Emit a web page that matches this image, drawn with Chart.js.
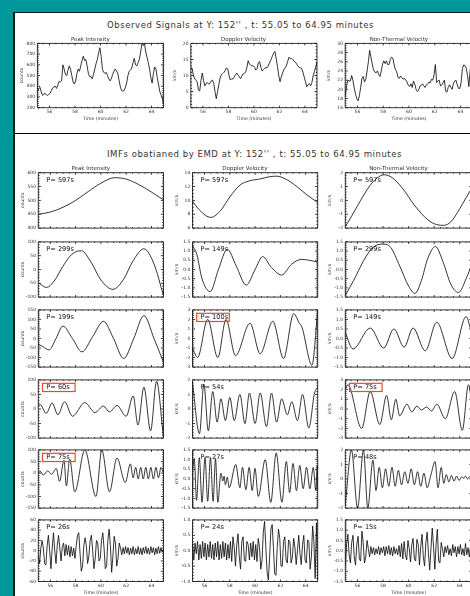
<!DOCTYPE html>
<html>
<head>
<meta charset="utf-8">
<script src="https://cdn.jsdelivr.net/npm/chart.js@4.4.1/dist/chart.umd.min.js"></script>
<style>
  html, body { margin:0; padding:0; width:470px; height:596px; overflow:hidden; background:#00989a; }
  #page { position:absolute; left:0; top:0; width:470px; height:596px; overflow:hidden; }
  #panel { position:absolute; left:13px; top:12px; width:470px; height:600px; background:#fff; box-sizing:border-box; border-left:2px solid #0b1c1c; border-top:1px solid #0b1c1c; }
  #divider { position:absolute; left:15px; top:132.6px; width:460px; height:1.6px; background:#000; }
  .ttl { position:absolute; white-space:nowrap; font-family:'DejaVu Sans', sans-serif; color:#333; transform:translate(-50%,-50%); }
  canvas { position:absolute; }
</style>
</head>
<body>
<div id="page">
  <div id="panel"></div>
  <div id="divider"></div>
  <div class="ttl" id="t1" data-w="267" style="left:240.5px;top:24.5px;font-size:8.5px">Observed Signals at Y: 152'' , t: 55.05 to 64.95 minutes</div>
  <div class="ttl" id="t2" data-w="295" style="left:254.5px;top:154px;font-size:8.5px">IMFs obatianed by EMD at Y: 152'' , t: 55.05 to 64.95 minutes</div>
</div>
<script>
// ---------------- DATA ----------------
const times = [
 55.05,55.15,55.25,55.35,55.45,55.55,55.65,55.75,55.85,55.95,
 56.05,56.15,56.25,56.35,56.45,56.55,56.65,56.75,56.85,56.95,
 57.05,57.15,57.25,57.35,57.45,57.55,57.65,57.75,57.85,57.95,
 58.05,58.15,58.25,58.35,58.45,58.55,58.65,58.75,58.85,58.95,
 59.05,59.15,59.25,59.35,59.45,59.55,59.65,59.75,59.85,59.95,
 60.05,60.15,60.25,60.35,60.45,60.55,60.65,60.75,60.85,60.95,
 61.05,61.15,61.25,61.35,61.45,61.55,61.65,61.75,61.85,61.95,
 62.05,62.15,62.25,62.35,62.45,62.55,62.65,62.75,62.85,62.95,
 63.05,63.15,63.25,63.35,63.45,63.55,63.65,63.75,63.85,63.95,
 64.05,64.15,64.25,64.35,64.45,64.55,64.65,64.75,64.85,64.95];
const xTicks = [56, 58, 60, 62, 64];

// Observed signals (one value per time)
const obsPeak = [
 350,375,390,350,315,325,335,320,315,325, 335,360,385,395,400,380,410,445,440,450,
 600,560,510,500,550,590,560,500,440,420, 450,520,560,540,590,640,680,640,650,590,
 520,490,490,470,510,560,610,650,710,760, 680,560,530,520,530,500,470,450,470,510,
 540,560,545,520,460,400,360,355,360,390, 430,500,540,550,570,620,660,600,590,620,
 650,720,800,780,800,720,670,620,560,480, 430,520,580,560,480,420,350,320,290,230];
const obsDopp = [
 12.4,12.3,10.2,9.0,8.6,8.0,5.5,5.2,8.5,10.8, 8.5,6.8,7.5,7.8,7.3,7.6,8.3,8.6,7.6,5.0,
 2.8,5.0,7.2,9.2,10.3,10.6,11.0,11.6,12.4,12.0, 10.0,8.6,9.0,8.9,9.5,10.2,10.8,10.2,9.7,9.0,
 9.8,10.5,10.7,11.0,12.5,14.6,13.6,13.2,13.0,13.0, 12.6,11.7,12.2,14.0,14.3,12.5,11.4,11.9,12.3,12.4,
 12.5,13.3,14.2,15.0,16.0,17.0,17.5,15.2,12.8,10.0, 8.1,9.6,10.8,11.8,12.4,13.0,14.4,15.7,15.2,15.4,
 15.0,14.5,14.2,13.6,13.0,12.5,12.4,12.2,11.0,9.5, 8.0,6.5,7.2,7.5,6.8,7.8,10.0,11.3,12.8,14.0];
const obsNTV = [
 18.5,20.6,22.0,21.8,21.8,23.0,22.0,20.3,19.0,18.0, 17.5,18.6,20.4,22.4,22.8,21.6,22.2,24.0,26.0,28.5,
 27.0,25.5,24.2,23.8,23.6,24.0,23.2,22.8,24.0,25.5, 26.2,25.6,26.2,25.4,25.4,26.5,27.0,26.8,25.3,24.3,
 23.8,22.6,22.4,22.9,22.5,22.2,22.4,22.0,21.6,20.9, 20.6,21.2,20.4,21.8,21.2,20.0,19.5,19.8,20.7,20.8,
 21.2,20.8,20.4,20.9,21.2,21.6,21.4,22.2,22.0,23.2, 25.4,21.5,21.8,22.0,20.7,21.0,21.4,22.0,19.6,19.4,
 20.4,21.0,20.5,20.0,21.2,21.8,22.0,21.0,20.2,20.2, 21.5,24.5,25.3,25.2,24.6,23.0,20.6,24.0,26.5,28.0];

// IMFs, rows 1-5: [time, value] read at turning points
const imf1Peak = [[55.05,450],[56,458],[57,475],[58,500],[59,532],[60,562],[61.1,582],[62,577],[63,557],[64,530],[64.95,502]];
const imf1Dopp = [[55.05,9.9],[55.6,8.6],[56.5,7.55],[57.3,8.6],[58.0,10.5],[58.8,12.2],[59.5,12.8],[60.4,13.1],[61.1,13.4],[61.7,13.5],[62.5,13.0],[63.3,12.0],[64.1,10.8],[64.95,9.7]];
const imf1NTV = [[55.05,-1.9],[55.5,-1.2],[56,-0.4],[56.5,0.4],[57,1.1],[57.5,1.6],[58.1,1.85],[58.7,1.65],[59.5,0.9],[60.5,-0.4],[61.5,-1.4],[62.2,-1.75],[62.75,-1.8],[63.3,-1.55],[64,-0.6],[64.5,0.2],[64.95,0.9]];

const imf2Peak = [[55.05,-48],[55.7,-65],[56.3,-42],[57.0,12],[57.7,55],[58.45,68],[59.2,28],[60.0,-38],[60.95,-72],[61.8,-35],[62.5,28],[63.4,75],[64.2,20],[64.95,-95]];
const imf2Dopp = [[55.05,1.3],[55.4,0.8],[55.8,-0.5],[56.45,-1.2],[57.1,0],[57.8,1.1],[58.5,0.2],[59.3,-0.85],[60.0,0],[60.6,0.7],[61.3,0.1],[62.1,-0.3],[62.9,0.3],[63.7,0.55],[64.3,0.5],[64.95,0.4]];
const imf2NTV = [[55.05,-1.4],[55.7,-0.6],[56.5,0.5],[57.2,1.2],[58.0,1.38],[58.6,1.2],[59.3,0.2],[60.0,-0.9],[60.5,-1.3],[61.0,-0.6],[61.5,0.6],[62.1,1.25],[62.7,0.4],[63.3,-0.8],[63.9,-1.25],[64.5,-0.5],[64.95,0.3]];

const imf3Peak = [[55.05,-30],[55.4,-42],[55.9,-60],[56.45,0],[57.0,65],[57.75,0],[58.5,-70],[59.35,10],[60.2,90],[61.0,0],[61.8,-105],[62.6,0],[63.4,120],[64.2,0],[64.95,-125]];
const imf3Dopp = [[55.05,-1.0],[55.45,-2.0],[56.25,2.0],[57.05,-2.0],[57.7,2.0],[58.45,-1.8],[59.6,1.6],[60.4,-1.6],[61.4,1.8],[62.25,-2.1],[63.05,2.6],[63.5,1.6],[63.7,1.2],[64.5,-2.8],[64.95,3.0]];
const imf3NTV = [[55.05,0.3],[55.65,-0.55],[57.0,0.55],[58.05,-0.5],[58.85,0.5],[59.65,-0.45],[60.35,0.55],[61.3,-0.65],[62.2,0.85],[63.4,-1.05],[64.5,1.15],[64.95,0.2]];

const imf4Peak = [[55.05,10],[55.2,15],[55.67,-15],[56.15,20],[56.6,-20],[57.13,25],[57.75,-25],[58.73,22],[59.53,-12],[60.2,10],[60.68,-10],[61.27,12],[62.0,-25],[62.55,45],[62.93,-55],[63.4,75],[63.93,-75],[64.4,95],[64.95,-100]];
const imf4Dopp = [[55.05,1.8],[55.6,-1.7],[55.95,1.7],[56.3,-1.5],[56.65,1.2],[57.0,-0.9],[57.3,0.7],[57.65,-0.8],[58.0,0.8],[58.35,-0.8],[58.8,1.0],[59.2,-1.0],[59.55,1.1],[60.0,-1.0],[60.4,1.1],[60.9,-1.2],[61.3,1.1],[61.7,-0.9],[62.1,0.7],[62.55,-0.4],[62.9,0.5],[63.35,-0.8],[63.75,1.0],[64.25,-1.3],[64.7,1.1],[64.95,1.5]];
const imf4NTV = [[55.05,2.0],[55.25,2.5],[56.33,-2.0],[57.0,1.8],[57.75,-1.6],[58.28,1.4],[58.65,-1.1],[59.0,1.0],[59.3,-0.7],[59.87,0.5],[60.25,-0.3],[60.65,0.3],[61.0,-0.1],[61.4,0.2],[61.8,-0.2],[62.2,0.5],[62.87,-1.0],[63.6,1.8],[64.2,-2.2],[64.68,2.5],[64.95,0.5]];

const imf5Peak = [[55.05,0],[55.2,8],[55.45,-8],[55.8,10],[56.1,-5],[56.47,20],[56.73,-35],[57.08,55],[57.27,-55],[57.53,60],[57.93,-80],[58.73,100],[59.61,-100],[60.07,100],[60.68,-80],[61.27,65],[61.93,-40],[62.33,40],[62.55,-20],[62.75,25],[62.95,-25],[63.15,25],[63.35,-25],[63.55,25],[63.75,-25],[63.95,25],[64.15,-25],[64.35,25],[64.55,-20],[64.75,25],[64.95,0]];
const imf5Dopp = [[55.05,0.4],[55.19,1.05],[55.37,-1.1],[55.59,1.1],[55.8,-1.2],[56.04,1.1],[56.25,-1.15],[56.47,1.1],[56.68,-1.15],[56.87,1.05],[57.05,-1.2],[57.3,0.3],[57.45,-0.1],[57.55,0.15],[57.65,-0.3],[57.8,0.1],[57.95,-0.45],[58.47,0.75],[58.8,-0.45],[59.0,0.6],[59.27,-0.55],[59.53,0.6],[59.77,-0.6],[59.99,0.55],[60.25,-0.9],[60.8,1.0],[61.24,-1.2],[61.67,1.35],[62.12,-1.2],[62.47,0.9],[62.73,-0.7],[63.0,0.8],[63.27,-0.6],[63.53,0.7],[63.8,-0.5],[64.07,0.6],[64.33,-0.5],[64.6,0.6],[64.8,-0.6],[64.92,0.7],[64.95,-0.6]];
const imf5NTV = [[55.05,-1.8],[55.53,2.0],[56.01,-2.0],[56.47,2.0],[56.81,-2.0],[57.21,1.3],[57.45,-0.8],[57.7,0.8],[57.95,-0.6],[58.2,0.7],[58.45,-0.5],[58.7,0.8],[58.95,-0.5],[59.2,0.6],[59.45,-0.4],[59.7,0.5],[59.95,-0.3],[60.2,0.7],[60.45,-0.4],[60.7,0.5],[60.95,-0.5],[61.2,0.4],[61.45,-0.6],[61.75,0.3],[62.07,1.2],[62.3,-0.6],[62.55,0.8],[62.75,-0.3],[62.95,0.3],[63.15,-0.2],[63.35,0.25],[63.55,-0.15],[63.75,0.2],[63.95,-0.1],[64.15,0.15],[64.3,0.05],[64.45,0.2],[64.6,0.0],[64.75,0.15],[64.95,0.0]];

// IMFs, row 6 (one value per time)
const imf6Peak = [
 -10,-25,5,20,5,-25,-28,10,30,0, -35,5,35,0,-25,10,30,5,-20,8,
 15,-10,12,-8,10,-12,8,-10,5,-15, 10,30,35,-5,-40,-30,10,25,10,-25,
 -10,20,30,0,-35,-15,20,15,-20,-15, 20,35,5,-35,-30,20,42,10,-42,-10,
 28,15,-30,-15,15,5,-8,6,-6,8, -5,6,-8,5,-6,8,-8,4,-6,8,
 -7,5,-8,6,-5,8,-6,5,-7,8, -4,6,-8,5,-6,8,-5,6,-3,4];
const imf6Dopp = [
 0.3,-0.3,0.25,-0.1,0.3,-0.3,0.2,-0.25,0.3,-0.2, 0.25,-0.3,0.2,-0.2,0.3,-0.25,0.2,-0.3,0.25,-0.2,
 0.3,-0.3,0.2,-0.25,0.3,-0.2,0.25,-0.3,0.2,-0.25, 0.3,-0.35,0.45,0.1,-0.5,0.2,0.55,-0.2,-0.6,0.3,
 0.45,-0.3,-0.35,0.3,0.2,-0.3,0.25,-0.2,0.3,-0.3, 0.2,-0.35,0.4,0.1,-0.6,-0.3,0.6,0.95,0.1,-0.7,
 -0.95,-0.2,0.7,0.85,0.1,-0.75,-0.8,0.1,0.7,0.4, -0.5,-0.5,0.3,0.45,-0.3,-0.4,0.35,0.3,-0.4,-0.2,
 0.4,0.1,-0.45,0.0,0.5,-0.1,-0.45,0.2,0.5,-0.3, -0.4,0.35,0.3,-0.6,-0.2,0.8,0.3,-0.9,0.9,-0.95];
const imf6NTV = [
 -0.7,0.3,0.8,-0.2,-0.6,0.4,0.75,-0.3,-0.7,0.3, 0.7,-0.4,-0.5,0.95,0.4,-0.6,-0.3,0.5,0.1,-0.3,
 0.2,-0.15,0.15,-0.2,0.1,-0.15,0.2,-0.2,0.15,-0.1, 0.2,-0.25,0.2,-0.15,0.25,-0.2,0.15,-0.25,0.2,-0.15,
 0.1,-0.2,0.25,-0.3,0.35,-0.4,0.45,-0.2,-0.45,0.5, 0.1,-0.55,0.3,0.6,-0.4,-0.5,0.55,0.3,-0.7,0.2,
 0.8,-0.3,-0.75,0.4,0.9,-0.1,-0.95,0.1,1.1,0.2, -0.9,0.3,1.05,-0.5,-0.6,0.4,0.1,-0.3,0.2,-0.1,
 0.25,-0.2,0.1,-0.25,0.3,-0.1,0.2,-0.3,0.2,-0.15, 0.3,-0.2,0.1,-0.25,0.35,-0.2,0.15,-0.3,0.2,-0.1];

// y tick values per plot
const ytObsPeak = [200,300,400,500,600,700,800];
const ytObsDopp = [0,5,10,15,20];
const ytObsNTV  = [16,18,20,22,24,26,28,30];
const yt1Peak = [400,450,500,550,600];
const yt1Dopp = [6,8,10,12,14];
const yt1NTV  = [-2,-1,0,1,2];
const yt2Peak = [-100,-50,0,50,100];
const ytHalf15 = [-1.5,-1.0,-0.5,0.0,0.5,1.0,1.5];
const yt3Peak = [-150,-100,-50,0,50,100,150];
const yt3Dopp = [-3,-2,-1,0,1,2,3];
const yt4Peak = [-100,-50,0,50,100];
const yt4Dopp = [-2,-1,0,1,2];
const yt4NTV  = [-3,-2,-1,0,1,2,3];
const yt5Peak = [-150,-100,-50,0,50,100];
const yt5NTV  = [-2,-1,0,1,2];
const yt6Peak = [-60,-40,-20,0,20,40,60];
const yt6Dopp = [-1.0,-0.5,0.0,0.5,1.0];

const periods = [['597s','597s','597s'],['299s','149s','299s'],['199s','100s','149s'],['60s','54s','75s'],['75s','27s','48s'],['26s','24s','15s']];
const boxed = [[false,false,false],[false,false,false],[false,true,false],[true,false,true],[true,false,false],[false,false,false]];

// ---------------- LAYOUT ----------------
const FONT = "'DejaVu Sans', sans-serif";
const TXT = '#333';
const colsTop = [37.4, 190.8, 345.2], wTopCols = [126.2, 126.2, 127.5];
const topY = 43.4, topH = 64.3;
const colsBot = [38.3, 192.5, 345.3], wBotCols = [125.2, 125.2, 126.6];
const rowTops = [172.7, 241.7, 309.4, 379.4, 449.3, 519.3];
const rowHs   = [57.4, 57.4, 60.6, 61.2, 61.4, 62.2];

function minorList(lo, hi, majors) {
  const step = majors[1] - majors[0];
  const mag = Math.pow(10, Math.floor(Math.log10(step) + 1e-9));
  const lead = Math.round(step / mag);
  const n = lead === 2 ? 4 : 5;
  const ms = step / n;
  const out = [];
  const start = Math.ceil((lo - 1e-9) / ms) * ms;
  for (let v = start; v <= hi + 1e-9; v += ms) {
    if (!majors.some(m => Math.abs(m - v) < ms * 0.01)) out.push(v);
  }
  return out;
}

const idlPlugin = {
  id: 'idl',
  afterDatasetsDraw(chart, args, o) {
    const ctx = chart.ctx, a = chart.chartArea, xs = chart.scales.x, ys = chart.scales.y;
    ctx.save();
    ctx.strokeStyle = '#111';
    ctx.lineWidth = 0.85;
    ctx.beginPath();
    ctx.rect(a.left, a.top, a.right - a.left, a.bottom - a.top);
    const tick = (list, len, isX) => list.forEach(v => {
      if (isX) {
        const p = xs.getPixelForValue(v);
        ctx.moveTo(p, a.bottom); ctx.lineTo(p, a.bottom - len);
        ctx.moveTo(p, a.top); ctx.lineTo(p, a.top + len);
      } else {
        const p = ys.getPixelForValue(v);
        ctx.moveTo(a.left, p); ctx.lineTo(a.left + len, p);
        ctx.moveTo(a.right, p); ctx.lineTo(a.right - len, p);
      }
    });
    tick(o.xMajor, 2.0, true);
    tick(o.xMinor, 1.0, true);
    tick(o.yMajor, 2.6, false);
    tick(o.yMinor, 1.3, false);
    ctx.stroke();
    if (o.pLabel) {
      ctx.font = '6.6px ' + FONT;
      ctx.fillStyle = '#111';
      ctx.textBaseline = 'middle';
      ctx.textAlign = 'left';
      ctx.fillText(o.pLabel, a.left + 8, a.top + 7.4);
    }
    if (o.redBox) {
      ctx.strokeStyle = '#ea4a2c';
      ctx.lineWidth = 1.2;
      ctx.strokeRect(a.left + 4.2, a.top + 3.4, 32.6, 8.2);
    }
    ctx.restore();
  }
};

function addPlot(s) {
  const LMt = 20, RMt = 2;
  const TMt = s.title ? 7 : 4;
  const BMt = s.showX ? 14 : 2;
  const cl = Math.floor(s.x - LMt), ct = Math.floor(s.y - TMt);
  const lm = s.x - cl, tm = s.y - ct;
  const cw = Math.ceil(s.x + s.w + RMt) - cl;
  const ch = Math.ceil(s.y + s.h + BMt) - ct;
  const rm = cw - lm - s.w;
  const bm = ch - tm - s.h;
  const cv = document.createElement('canvas');
  cv.width = cw; cv.height = ch;
  cv.style.left = cl + 'px'; cv.style.top = ct + 'px';
  cv.style.width = cw + 'px'; cv.style.height = ch + 'px';
  document.getElementById('page').appendChild(cv);
  const pts = s.pairs ? s.pairs.map(p => ({x: p[0], y: p[1]})) : s.values.map((v, i) => ({x: times[i], y: v}));
  const dec = s.dec || 0;
  const yMin = s.yTicks[0], yMax = s.yTicks[s.yTicks.length - 1];
  new Chart(cv, {
    type: 'line',
    data: { datasets: [{ data: pts, borderColor: '#111', borderWidth: 0.85, pointRadius: 0, fill: false,
      tension: s.pairs ? 0.4 : 0, cubicInterpolationMode: s.pairs ? 'monotone' : 'default' }] },
    options: {
      responsive: false, animation: false, devicePixelRatio: 1, events: [],
      layout: { padding: { top: s.title ? tm - 7 : tm, right: rm, left: 0, bottom: 0 } },
      plugins: {
        legend: { display: false }, tooltip: { enabled: false },
        title: { display: !!s.title, text: s.title || '', color: TXT, font: { family: FONT, size: 5.5, lineHeight: 1, weight: 'normal' }, padding: { top: 0, bottom: 1.5 } },
        idl: { xMajor: xTicks, xMinor: minorList(55.05, 64.95, xTicks), yMajor: s.yTicks, yMinor: minorList(yMin, yMax, s.yTicks), pLabel: s.p ? 'P= ' + s.p : '', redBox: !!s.box }
      },
      scales: {
        x: { type: 'linear', min: 55.05, max: 64.95, grid: { display: false, drawTicks: false }, border: { display: false },
          ticks: { display: !!s.showX, color: TXT, font: { family: FONT, size: 4.5 }, padding: 1.5, maxRotation: 0, autoSkip: false, callback: v => String(v) },
          title: { display: !!s.showX, text: 'Time (minutes)', color: TXT, font: { family: FONT, size: 4.6, lineHeight: 1.2 }, padding: { top: 0, bottom: Math.max(0, bm - 2.76 - 10.8) } },
          afterBuildTicks: sc => { sc.ticks = xTicks.map(v => ({ value: v })); },
          afterFit: sc => { sc.height = bm; } },
        y: { type: 'linear', min: yMin, max: yMax, grid: { display: false, drawTicks: false }, border: { display: false },
          ticks: { color: TXT, font: { family: FONT, size: 4.5 }, padding: 2.2, autoSkip: false, callback: v => Number(v).toFixed(dec) },
          title: { display: true, text: s.yTitle, color: TXT, font: { family: FONT, size: 4.6, lineHeight: 1.2 }, padding: { top: Math.max(0, lm - 16 - 2.76), bottom: 0 } },
          afterBuildTicks: sc => { sc.ticks = s.yTicks.map(v => ({ value: v })); },
          afterFit: sc => { sc.width = lm; } }
      }
    },
    plugins: [idlPlugin]
  });
}

// top panel
addPlot({ x: colsTop[0], y: topY, w: wTopCols[0], h: topH, title: 'Peak Intensity', yTitle: 'counts', yTicks: ytObsPeak, values: obsPeak, showX: true });
addPlot({ x: colsTop[1], y: topY, w: wTopCols[1], h: topH, title: 'Doppler Velocity', yTitle: 'km/s', yTicks: ytObsDopp, values: obsDopp, showX: true });
addPlot({ x: colsTop[2], y: topY, w: wTopCols[2], h: topH, title: 'Non-Thermal Velocity', yTitle: 'km/s', yTicks: ytObsNTV, values: obsNTV, showX: true });

// IMF panel
const imfRows = [
  [[imf1Peak, yt1Peak, 0], [imf1Dopp, yt1Dopp, 0], [imf1NTV, yt1NTV, 0]],
  [[imf2Peak, yt2Peak, 0], [imf2Dopp, ytHalf15, 1], [imf2NTV, ytHalf15, 1]],
  [[imf3Peak, yt3Peak, 0], [imf3Dopp, yt3Dopp, 0], [imf3NTV, ytHalf15, 1]],
  [[imf4Peak, yt4Peak, 0], [imf4Dopp, yt4Dopp, 0], [imf4NTV, yt4NTV, 0]],
  [[imf5Peak, yt5Peak, 0], [imf5Dopp, ytHalf15, 1], [imf5NTV, yt5NTV, 0]],
  [[imf6Peak, yt6Peak, 0], [imf6Dopp, yt6Dopp, 1], [imf6NTV, ytHalf15, 1]]
];
const colTitles = ['Peak Intensity', 'Doppler Velocity', 'Non-Thermal Velocity'];
const yTitles = ['counts', 'km/s', 'km/s'];
imfRows.forEach((row, r) => row.forEach((cell, c) => {
  const spec = { x: colsBot[c], y: rowTops[r], w: wBotCols[c], h: rowHs[r], yTitle: yTitles[c], yTicks: cell[1], dec: cell[2],
    p: periods[r][c], box: boxed[r][c], showX: r === 5, title: r === 0 ? colTitles[c] : '' };
  if (r === 5) spec.values = cell[0]; else spec.pairs = cell[0];
  addPlot(spec);
}));

// fit the two panel headings to their widths
document.querySelectorAll('.ttl').forEach(el => {
  const target = +el.dataset.w;
  const w = el.getBoundingClientRect().width;
  el.style.letterSpacing = ((target - w) / el.textContent.length).toFixed(3) + 'px';
});
</script>
</body>
</html>
